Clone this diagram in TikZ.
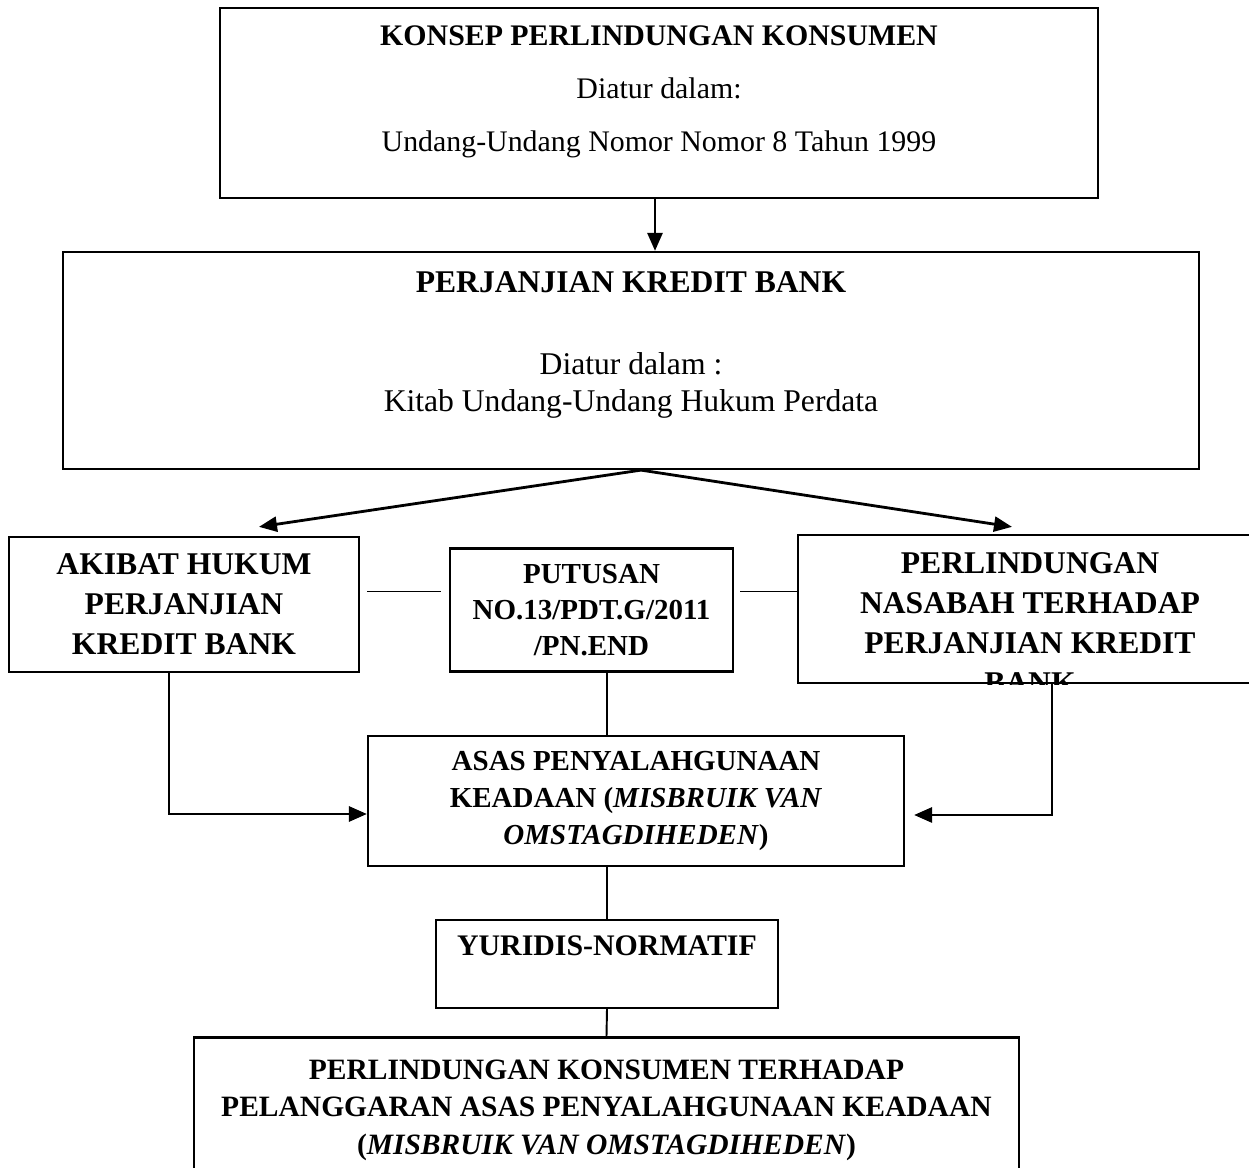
\documentclass[tikz,border=0pt]{standalone}
\usepackage{fontspec}
\setmainfont{Liberation Serif}
\usetikzlibrary{arrows.meta}
\tikzstyle{kotak} = [rectangle, draw=black, line width=1.3pt, inner sep=0pt, align=center, text centered]
\tikzstyle{teksa} = [align=center, inner sep=0pt, font=\fontsize{17}{30}\selectfont]
\tikzstyle{teksb} = [align=center, inner sep=0pt, font=\fontsize{18}{21}\selectfont]
\tikzstyle{tebal} = [align=center, inner sep=0pt, font=\fontsize{18}{22.8}\selectfont\bfseries]
\tikzstyle{tebalkecil} = [align=center, inner sep=0pt, font=\fontsize{16.5}{21.2}\selectfont\bfseries]
\tikzstyle{arrow} = [line width=1.6pt, -{Triangle[length=0.36cm, width=0.3cm]}]
\tikzstyle{garis} = [line width=1.1pt]

\begin{document}
\begin{tikzpicture}[x=0.02cm, y=-0.02cm]
\clip (0,0) rectangle (1249,1168);

% kotak paling atas
\node (konsep) [kotak, minimum width=17.56cm, minimum height=3.8cm] at (659,103) {};
\node (konsepteks) [teksa] at (659,92) {\textbf{KONSEP PERLINDUNGAN KONSUMEN}\\Diatur dalam:\\Undang-Undang Nomor Nomor 8 Tahun 1999};

\node (kredit) [kotak, minimum width=22.72cm, minimum height=4.34cm] at (631,360.5) {};
\node (kreditteks) [teksb] at (631,345) {\textbf{PERJANJIAN KREDIT BANK}\\[26pt]Diatur dalam :\\Kitab Undang-Undang Hukum Perdata};

\node (akibat) [kotak, tebal, minimum width=7cm, minimum height=2.7cm] at (184,604.5) {AKIBAT HUKUM\\PERJANJIAN\\KREDIT BANK};

\node (putusan) [kotak, tebalkecil, font=\fontsize{16.5}{20.5}\selectfont\bfseries, minimum width=5.66cm, minimum height=2.46cm] at (591.5,610) {PUTUSAN\\NO.13/PDT.G/2011\\/PN.END};

\node (perlin) [kotak, minimum width=9.28cm, minimum height=2.96cm] at (1030,609) {};
\begin{scope}
\clip (perlin.south west) rectangle (perlin.north east);
\node (perlinteks) [tebal] at (1030,623) {PERLINDUNGAN\\NASABAH TERHADAP\\PERJANJIAN KREDIT\\BANK};
\end{scope}

\node (asas) [kotak, tebalkecil, minimum width=10.72cm, minimum height=2.6cm] at (636,801) {ASAS PENYALAHGUNAAN\\KEADAAN (\textit{MISBRUIK VAN}\\\textit{OMSTAGDIHEDEN})};

\node (yuridis) [kotak, minimum width=6.84cm, minimum height=1.76cm] at (607,964) {};
\node (yuridisteks) [tebalkecil, font=\fontsize{17}{21}\selectfont\bfseries] at (607,946) {YURIDIS-NORMATIF};

\node (hasil) [kotak, tebalkecil, font=\fontsize{16.8}{21.3}\selectfont\bfseries, minimum width=16.5cm, minimum height=2.9cm] at (606.5,1110) {PERLINDUNGAN KONSUMEN TERHADAP\\PELANGGARAN ASAS PENYALAHGUNAAN KEADAAN\\(\textit{MISBRUIK VAN OMSTAGDIHEDEN})};

\draw [arrow] ([xshift=-0.08cm]konsep.south) -- ([xshift=-0.08cm]konsep.south |- kredit.north);
\draw [arrow] ([xshift=0.2cm]kredit.south) -- ([xshift=1.5cm, yshift=0.18cm]akibat.north);
\draw [arrow] ([xshift=0.2cm]kredit.south) -- ([xshift=-0.36cm, yshift=0.14cm]perlin.north);

\draw [garis, shorten <=0.14cm, shorten >=0.16cm] ([yshift=0.37cm]putusan.west -| akibat.east) -- ([yshift=0.37cm]putusan.west);
\draw [garis, shorten <=0.12cm] ([yshift=0.37cm]putusan.east) -- ([yshift=0.37cm]putusan.east -| perlin.west);
\draw [garis] (putusan.south -| yuridis.north) -- (asas.north -| yuridis.north);

\draw [arrow] ([xshift=-0.3cm]akibat.south) |- ([yshift=-0.26cm]asas.west);
\draw [arrow] ([xshift=0.44cm]perlin.south) |- ([xshift=0.18cm, yshift=-0.28cm]asas.east);

\draw [garis] (asas.south -| yuridis.north) -- (yuridis.north);
\draw [garis] (yuridis.south) -- (hasil.north);
\end{tikzpicture}
\end{document}
